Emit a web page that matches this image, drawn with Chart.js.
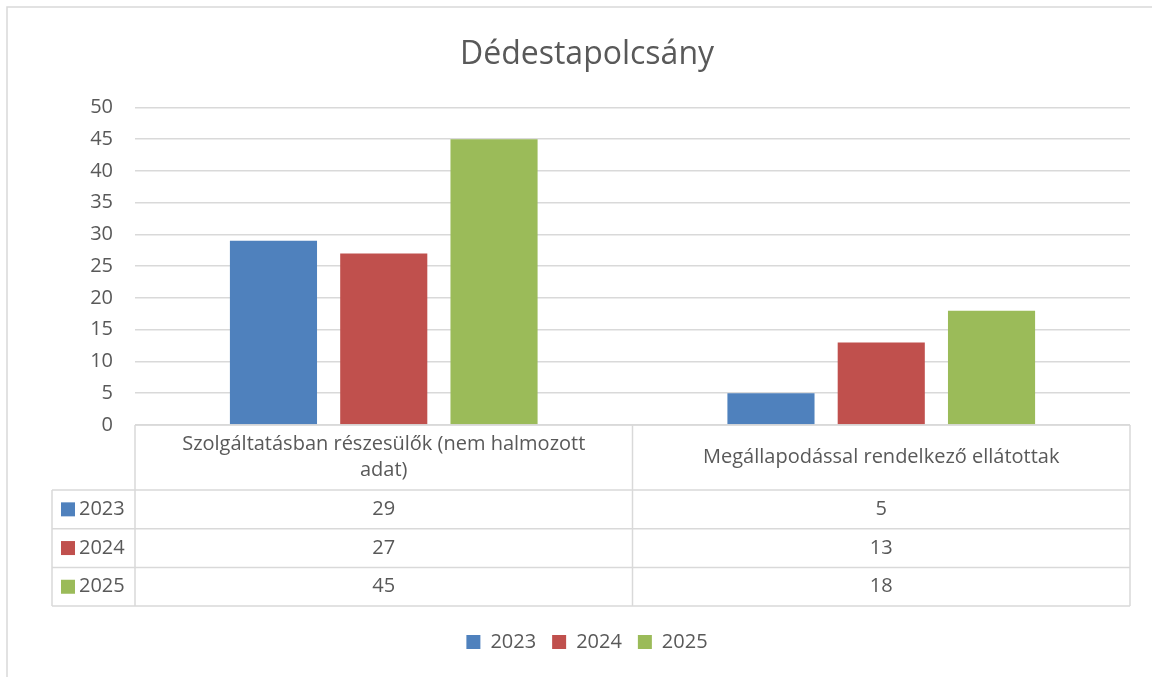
<!DOCTYPE html>
<html>
<head>
<meta charset="utf-8">
<script src="https://cdn.jsdelivr.net/npm/chart.js@4"></script>
<style>
  html, body { margin: 0; padding: 0; background: #fff; }
  #wrap { position: relative; width: 1152px; height: 677px; }
</style>
</head>
<body>
<div id="wrap"><canvas id="chart" width="1152" height="677"></canvas></div>
<script>
// --- data ---
const categories = [
  ['Szolgáltatásban részesülők (nem halmozott', 'adat)'],
  'Megállapodással rendelkező ellátottak'
];
const years = ['2023', '2024', '2025'];
const values2023 = [29, 5];
const values2024 = [27, 13];
const values2025 = [45, 18];
const yTicks = [0, 5, 10, 15, 20, 25, 30, 35, 40, 45, 50];

const colors = ['#4F81BD', '#C0504D', '#9BBB59'];
const textColor = '#595959';
const lineColor = '#D9D9D9';
const fontFamily = '"Open Sans", "Noto Sans", sans-serif';
const fontSize = 20;

// --- plugin: frame + data table under the plot ---
const tablePlugin = {
  id: 'dataTable',
  beforeDraw(chart) {
    const c = chart.ctx;
    c.save();
    c.strokeStyle = lineColor;
    c.lineWidth = 1.5;
    c.strokeRect(7, 7, 1160, 700);
    c.restore();
  },
  afterDraw(chart) {
    const c = chart.ctx;
    const xs = chart.scales.x;
    const area = chart.chartArea;
    const n = categories.length;
    const catW = (xs.right - xs.left) / n;
    const top = area.bottom;
    const headerH = 65;
    const rowH = 38.7;
    const rowLeft = 52;
    const series = chart.data.datasets;

    c.save();
    c.strokeStyle = lineColor;
    c.lineWidth = 1.5;
    const line = (x1, y1, x2, y2) => { c.beginPath(); c.moveTo(x1, y1); c.lineTo(x2, y2); c.stroke(); };

    line(xs.left, top, xs.right, top);
    const bottom = top + headerH + rowH * series.length;
    for (let r = 0; r <= series.length; r++) {
      const y = top + headerH + rowH * r;
      line(rowLeft, y, xs.right, y);
    }
    line(rowLeft, top + headerH, rowLeft, bottom);
    for (let i = 0; i <= n; i++) {
      const x = xs.left + catW * i;
      line(x, top, x, bottom);
    }

    c.fillStyle = textColor;
    c.font = fontSize + 'px ' + fontFamily;
    c.textAlign = 'center';
    c.textBaseline = 'middle';
    categories.forEach((lab, i) => {
      const cx = xs.getPixelForValue(i);
      const lines = Array.isArray(lab) ? lab : [lab];
      const lh = 26;
      const y0 = top + headerH / 2 - (lines.length - 1) * lh / 2;
      lines.forEach((t, k) => c.fillText(t, cx, y0 + k * lh));
    });
    series.forEach((ds, r) => {
      const cy = top + headerH + rowH * r + rowH / 2;
      c.fillStyle = ds.backgroundColor;
      c.fillRect(rowLeft + 9, cy - 7, 14, 14);
      c.fillStyle = textColor;
      c.textAlign = 'left';
      c.fillText(ds.label, rowLeft + 27, cy);
      c.textAlign = 'center';
      ds.data.forEach((v, i) => {
        c.fillText(String(v), xs.getPixelForValue(i), cy);
      });
    });
    c.restore();
  }
};

const ctx = document.getElementById('chart').getContext('2d');
const chart = new Chart(ctx, {
  type: 'bar',
  data: {
    labels: categories,
    datasets: [
      { label: years[0], data: values2023, backgroundColor: colors[0] },
      { label: years[1], data: values2024, backgroundColor: colors[1] },
      { label: years[2], data: values2025, backgroundColor: colors[2] }
    ]
  },
  options: {
    responsive: false,
    animation: false,
    layout: { padding: { left: 44, right: 22, top: 0, bottom: 15 } },
    datasets: {
      bar: { categoryPercentage: 0.665, barPercentage: 0.79, borderWidth: 0 }
    },
    scales: {
      x: {
        grid: { display: false },
        border: { display: false },
        ticks: { display: false },
        afterFit: (s) => { s.height = 191; }
      },
      y: {
        min: 0,
        max: 50,
        afterBuildTicks: (s) => { s.ticks = yTicks.map(v => ({ value: v })); },
        grid: { color: lineColor, lineWidth: 1.5, drawTicks: false },
        border: { display: false },
        ticks: { color: textColor, padding: 22, font: { family: fontFamily, size: fontSize } },
        afterFit: (s) => { s.width = 91; }
      }
    },
    plugins: {
      title: {
        display: true,
        text: 'Dédestapolcsány',
        color: textColor,
        font: { family: fontFamily, size: 32, weight: 'normal' },
        padding: { top: 36, bottom: 33 }
      },
      legend: {
        position: 'bottom',
        labels: {
          color: textColor,
          boxWidth: 14,
          boxHeight: 14,
          padding: 16,
          font: { family: fontFamily, size: fontSize }
        }
      },
      tooltip: { enabled: false }
    }
  },
  plugins: [tablePlugin]
});
</script>
</body>
</html>
